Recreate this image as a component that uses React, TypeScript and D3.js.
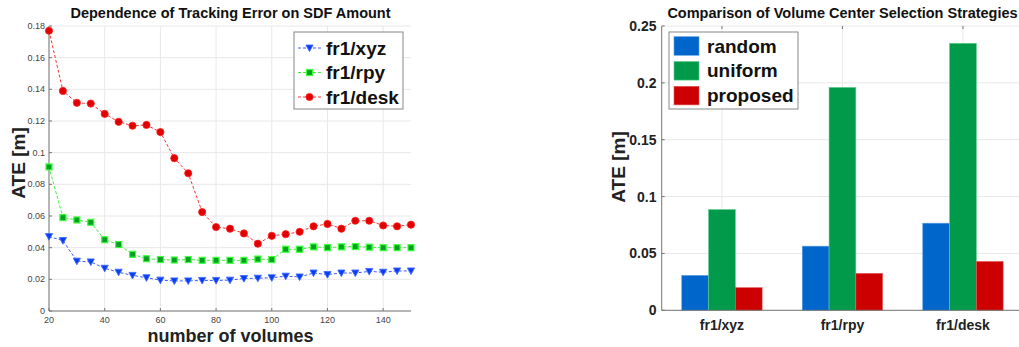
import React from "react";
import * as d3 from "d3";

const W = 1019;
const H = 347;
const font = "'Liberation Sans', Arial, sans-serif";

// left chart data
const volumes = [20, 25, 30, 35, 40, 45, 50, 55, 60, 65, 70, 75, 80, 85, 90, 95, 100, 105, 110, 115, 120, 125, 130, 135, 140, 145, 150];
const xyzErr = [0.047, 0.0445, 0.0315, 0.031, 0.027, 0.0245, 0.0225, 0.021, 0.0195, 0.019, 0.019, 0.0193, 0.0193, 0.0195, 0.0205, 0.0207, 0.021, 0.022, 0.0215, 0.024, 0.023, 0.024, 0.024, 0.025, 0.0245, 0.0253, 0.0253];
const rpyErr = [0.091, 0.059, 0.0575, 0.056, 0.045, 0.042, 0.0358, 0.033, 0.0325, 0.0322, 0.0325, 0.032, 0.032, 0.032, 0.032, 0.0328, 0.0325, 0.039, 0.039, 0.0405, 0.04, 0.0405, 0.0407, 0.0403, 0.04, 0.04, 0.04];
const deskErr = [0.177, 0.139, 0.1315, 0.131, 0.1245, 0.1195, 0.117, 0.1175, 0.113, 0.0965, 0.087, 0.0625, 0.053, 0.052, 0.049, 0.0425, 0.0475, 0.0485, 0.05, 0.0535, 0.055, 0.052, 0.057, 0.057, 0.054, 0.0535, 0.0545];
const lineNames = ["fr1/xyz", "fr1/rpy", "fr1/desk"];
const leftXTicks = [20, 40, 60, 80, 100, 120, 140];
const leftYTicks = [0, 0.02, 0.04, 0.06, 0.08, 0.1, 0.12, 0.14, 0.16, 0.18];

// right chart data
const sequences = ["fr1/xyz", "fr1/rpy", "fr1/desk"];
const strategies = ["random", "uniform", "proposed"];
const randomAte = [0.0307, 0.0564, 0.0766];
const uniformAte = [0.0886, 0.196, 0.2348];
const proposedAte = [0.0199, 0.0325, 0.043];
const rightYTicks = [0, 0.05, 0.1, 0.15, 0.2, 0.25];

const lineStyles = [
  { line: "#3b5bff", fill: "#0a3cf0", stroke: "#3f6bff", shape: "tri" },
  { line: "#3cf03c", fill: "#06a020", stroke: "#3cff3c", shape: "sq" },
  { line: "#ff3030", fill: "#e00000", stroke: "#ff2020", shape: "circ" },
];
const barColors = ["#0066cc", "#009a4a", "#cc0000"];
const barEdges = ["#5aa0e6", "#5cd08f", "#e65a5a"];

function Marker({ shape, x, y, fill, stroke }: any) {
  if (shape === "circ") return <circle cx={x} cy={y} r={3.6} fill={fill} stroke={stroke} strokeWidth={0.8} />;
  if (shape === "sq") return <rect x={x - 3} y={y - 3} width={6} height={6} fill={fill} stroke={stroke} strokeWidth={1.2} />;
  return <path d={`M${x - 3.6},${y - 3} L${x + 3.6},${y - 3} L${x},${y + 3.6} Z`} fill={fill} stroke={stroke} strokeWidth={0.9} />;
}

function LeftChart() {
  const x = d3.scaleLinear().domain([20, 150]).range([49, 411]);
  const y = d3.scaleLinear().domain([0, 0.18]).range([311, 26]);
  const series = [xyzErr, rpyErr, deskErr];
  const line = d3.line<number>().x((_, i) => x(volumes[i])).y(d => y(d));
  return (
    <g fontFamily={font}>
      {leftYTicks.map(t => (
        <line key={"gy" + t} x1={x(20)} x2={x(150)} y1={y(t)} y2={y(t)} stroke="#e8e8e8" />
      ))}
      {leftXTicks.map(t => (
        <line key={"gx" + t} x1={x(t)} x2={x(t)} y1={y(0)} y2={y(0.18)} stroke="#e8e8e8" />
      ))}
      <line x1={x(20)} x2={x(20)} y1={y(0)} y2={y(0.18)} stroke="#777" />
      <line x1={x(20)} x2={x(150)} y1={y(0)} y2={y(0)} stroke="#777" />
      {leftYTicks.map(t => (
        <g key={"ty" + t}>
          <line x1={x(20)} x2={x(20) + 3} y1={y(t)} y2={y(t)} stroke="#777" />
          <text x={x(20) - 4} y={y(t) + 3} fontSize={9} fill="#444" textAnchor="end">{d3.format("~g")(t)}</text>
        </g>
      ))}
      {leftXTicks.map(t => (
        <g key={"tx" + t}>
          <line x1={x(t)} x2={x(t)} y1={y(0)} y2={y(0) - 3} stroke="#777" />
          <text x={x(t)} y={y(0) + 12} fontSize={9} fill="#444" textAnchor="middle">{t}</text>
        </g>
      ))}
      {series.map((s, k) => (
        <g key={"s" + k}>
          <path d={line(s) || ""} fill="none" stroke={lineStyles[k].line} strokeWidth={1} strokeDasharray="3,2" />
          {s.map((v, i) => (
            <Marker key={i} shape={lineStyles[k].shape} x={x(volumes[i])} y={y(v)} fill={lineStyles[k].fill} stroke={lineStyles[k].stroke} />
          ))}
        </g>
      ))}
      <text x={230.5} y={18} fontSize={14.5} fontWeight="bold" textAnchor="middle" fill="#111">Dependence of Tracking Error on SDF Amount</text>
      <text x={230.5} y={342} fontSize={18} fontWeight="bold" textAnchor="middle" fill="#222">number of volumes</text>
      <text transform="translate(25,163) rotate(-90)" fontSize={19} fontWeight="bold" textAnchor="middle" fill="#222">ATE [m]</text>
      <rect x={294} y={32} width={109} height={77} fill="#fff" stroke="#888" />
      {lineNames.map((n, k) => {
        const cy = 48 + k * 24.5;
        return (
          <g key={n}>
            <line x1={298} x2={321} y1={cy} y2={cy} stroke={lineStyles[k].line} strokeDasharray="3,2" />
            <Marker shape={lineStyles[k].shape} x={309.5} y={cy} fill={lineStyles[k].fill} stroke={lineStyles[k].stroke} />
            <text x={326} y={cy + 6.5} fontSize={19} fontWeight="bold" fill="#111">{n}</text>
          </g>
        );
      })}
    </g>
  );
}

function RightChart() {
  const x0 = d3.scaleBand().domain(sequences).range([661.7, 1023.2]);
  const x1 = d3.scaleBand().domain(strategies).range([0, x0.bandwidth() * 0.667]);
  const off = (x0.bandwidth() - x1.range()[1]) / 2;
  const y = d3.scaleLinear().domain([0, 0.25]).range([310.3, 26]);
  const vals = [randomAte, uniformAte, proposedAte];
  return (
    <g fontFamily={font}>
      {rightYTicks.map(t => (
        <line key={"gy" + t} x1={661.7} x2={W} y1={y(t)} y2={y(t)} stroke="#e8e8e8" />
      ))}
      {sequences.map(s => {
        const cx = (x0(s) || 0) + x0.bandwidth() / 2;
        return (
          <g key={"gx" + s}>
            <line x1={cx} x2={cx} y1={y(0)} y2={y(0.25)} stroke="#e8e8e8" />
            <line x1={cx} x2={cx} y1={y(0.25)} y2={y(0.25) + 3} stroke="#777" />
            <line x1={cx} x2={cx} y1={y(0)} y2={y(0) - 3} stroke="#777" />
            <text x={cx} y={330} fontSize={14} fontWeight="bold" textAnchor="middle" fill="#222">{s}</text>
          </g>
        );
      })}
      {vals.map((arr, k) =>
        arr.map((v, i) => (
          <rect key={k + "-" + i} x={(x0(sequences[i]) || 0) + off + (x1(strategies[k]) || 0)} y={y(v)}
            width={x1.bandwidth()} height={y(0) - y(v)} fill={barColors[k]} stroke={barEdges[k]} strokeWidth={0.6} />
        ))
      )}
      <line x1={661.7} x2={661.7} y1={y(0)} y2={y(0.25)} stroke="#777" />
      <line x1={661.7} x2={W} y1={y(0)} y2={y(0)} stroke="#777" />
      {rightYTicks.map(t => (
        <g key={"ty" + t}>
          <line x1={661.7} x2={664.7} y1={y(t)} y2={y(t)} stroke="#777" />
          <text x={656.5} y={y(t) + 5} fontSize={14} fontWeight="bold" fill="#222" textAnchor="end">{d3.format("~g")(t)}</text>
        </g>
      ))}
      <text x={842.5} y={18} fontSize={14.5} fontWeight="bold" textAnchor="middle" fill="#111">Comparison of Volume Center Selection Strategies</text>
      <text transform="translate(625,167) rotate(-90)" fontSize={19} fontWeight="bold" textAnchor="middle" fill="#222">ATE [m]</text>
      <rect x={669} y={32} width={129} height={77} fill="#fff" stroke="#888" />
      {strategies.map((n, k) => {
        const cy = 46 + k * 24.8;
        return (
          <g key={n}>
            <rect x={674} y={cy - 9.3} width={25} height={18.6} fill={barColors[k]} stroke={barEdges[k]} strokeWidth={0.6} />
            <text x={707} y={cy + 6.5} fontSize={19} fontWeight="bold" fill="#111">{n}</text>
          </g>
        );
      })}
    </g>
  );
}

export default function App() {
  return (
    <div style={{ position: "absolute", left: 0, top: 0 }}>
      <svg width={W} height={H} style={{ display: "block", background: "#fff" }}>
        <LeftChart />
        <RightChart />
      </svg>
    </div>
  );
}
